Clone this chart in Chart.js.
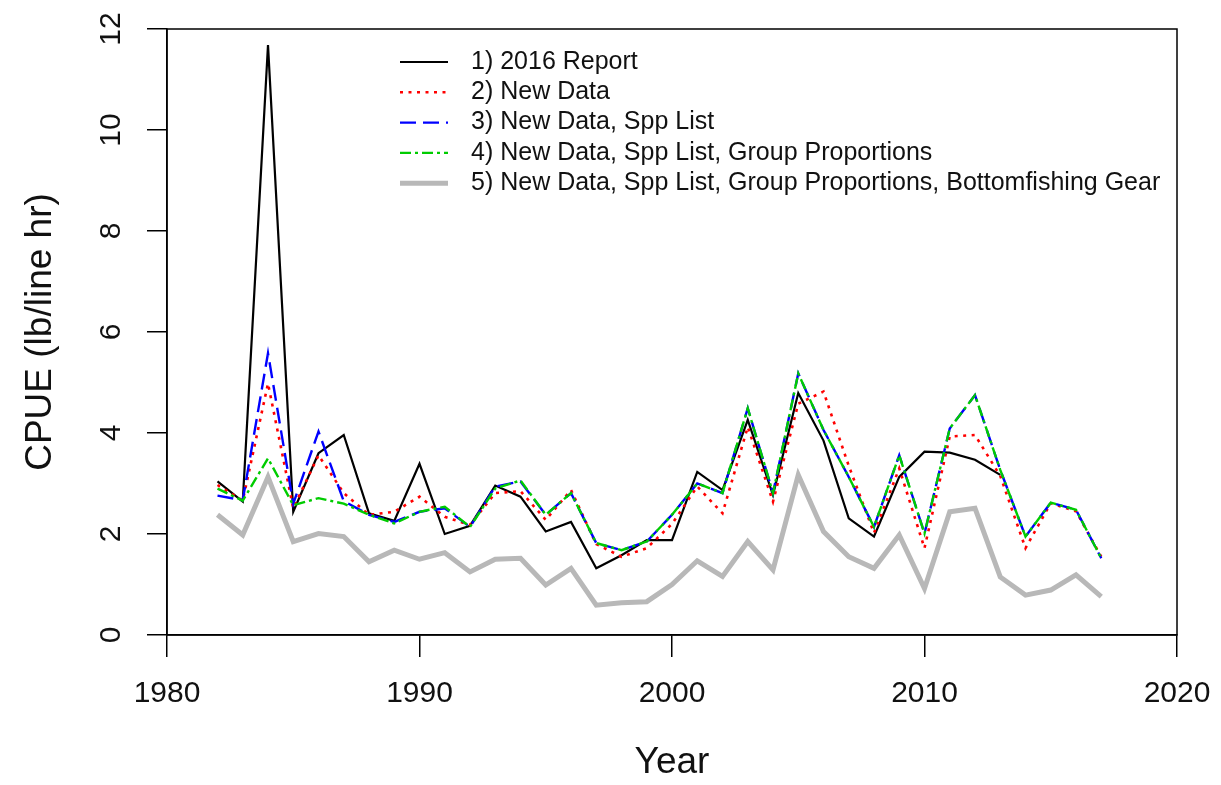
<!DOCTYPE html>
<html>
<head>
<meta charset="utf-8">
<title>CPUE by year</title>
<script src="https://cdn.jsdelivr.net/npm/chart.js@4.4.1/dist/chart.umd.min.js"></script>
<style>
  html, body { margin: 0; padding: 0; background: #fff; }
  #wrap { width: 1221px; height: 785px; }
</style>
</head>
<body>
<div id="wrap"><canvas id="cpue-chart" width="1221" height="785"></canvas></div>
<script>
const years = [1982, 1983, 1984, 1985, 1986, 1987, 1988, 1989, 1990, 1991, 1992, 1993,
    1994, 1995, 1996, 1997, 1998, 1999, 2000, 2001, 2002, 2003, 2004, 2005,
    2006, 2007, 2008, 2009, 2010, 2011, 2012, 2013, 2014, 2015, 2016, 2017];

const report2016 = [3.04, 2.64, 11.68, 2.44, 3.6, 3.96, 2.41, 2.26, 3.39, 2.0, 2.16, 2.96,
    2.74, 2.05, 2.24, 1.32, 1.58, 1.88, 1.88, 3.23, 2.87, 4.26, 2.77, 4.79,
    3.85, 2.31, 1.95, 3.13, 3.63, 3.61, 3.47, 3.17, null, null, null, null];
const newData = [2.97, 2.66, 4.98, 2.51, 3.56, 2.81, 2.38, 2.44, 2.74, 2.34, 2.18, 2.81,
    2.85, 2.28, 2.87, 1.8, 1.55, 1.72, 2.2, 2.94, 2.41, 4.12, 2.64, 4.58,
    4.82, 3.35, 2.02, 3.3, 1.72, 3.93, 3.96, 3.15, 1.72, 2.61, 2.45, 1.55];
const sppList = [2.76, 2.67, 5.58, 2.6, 4.03, 2.65, 2.38, 2.24, 2.44, 2.51, 2.14, 2.94,
    3.04, 2.38, 2.81, 1.82, 1.68, 1.85, 2.38, 3.0, 2.81, 4.49, 2.81, 5.18,
    4.06, 3.13, 2.14, 3.56, 2.01, 4.09, 4.75, 3.27, 1.95, 2.62, 2.48, 1.52];
const groupProps = [2.9, 2.66, 3.5, 2.57, 2.71, 2.6, 2.38, 2.21, 2.44, 2.54, 2.14, 2.9,
    3.06, 2.38, 2.81, 1.82, 1.68, 1.85, 2.38, 3.0, 2.81, 4.49, 2.81, 5.18,
    4.06, 3.13, 2.14, 3.56, 2.01, 4.09, 4.75, 3.27, 1.95, 2.62, 2.48, 1.52];
const bottomGear = [2.38, 1.98, 3.13, 1.85, 2.01, 1.95, 1.45, 1.68, 1.5, 1.63, 1.25, 1.5,
    1.52, 0.99, 1.32, 0.59, 0.64, 0.66, 1.0, 1.47, 1.16, 1.85, 1.29, 3.17,
    2.05, 1.55, 1.32, 1.98, 0.92, 2.44, 2.51, 1.15, 0.79, 0.89, 1.19, 0.76];

const seriesLabels = ['1) 2016 Report', '2) New Data', '3) New Data, Spp List',
    '4) New Data, Spp List, Group Proportions',
    '5) New Data, Spp List, Group Proportions, Bottomfishing Gear'];
const xTicks = [1980, 1990, 2000, 2010, 2020];
const yTicks = [0, 2, 4, 6, 8, 10, 12];

const FONT = '"Liberation Sans", Arial, sans-serif';

function pts(vals) {
    return years.map((yr, i) => ({ x: yr, y: vals[i] }));
}

// box around the plot, R style y labels and the legend inside the plot
const rPlotExtras = {
    id: 'rPlotExtras',
    afterDraw(chart) {
        const { ctx, chartArea: a } = chart;
        const y = chart.scales.y;
        ctx.save();
        ctx.strokeStyle = '#000';
        ctx.lineWidth = 1.5;
        ctx.strokeRect(a.left, a.top, a.right - a.left, a.bottom - a.top);

        ctx.fillStyle = '#111';
        ctx.font = '30px ' + FONT;
        ctx.textAlign = 'center';
        ctx.textBaseline = 'middle';
        yTicks.forEach(v => {
            ctx.save();
            ctx.translate(112, y.getPixelForValue(v));
            ctx.rotate(-Math.PI / 2);
            ctx.fillText(String(v), 0, 0);
            ctx.restore();
        });

        // legend
        ctx.font = '25px ' + FONT;
        ctx.textAlign = 'left';
        chart.data.datasets.forEach((ds, i) => {
            const ly = 62 + i * 30.3;
            ctx.save();
            ctx.strokeStyle = ds.borderColor;
            ctx.lineWidth = ds.borderWidth;
            ctx.setLineDash(ds.borderDash || []);
            ctx.beginPath();
            ctx.moveTo(400, ly);
            ctx.lineTo(448, ly);
            ctx.stroke();
            ctx.restore();
            ctx.fillText(ds.label, 471, ly);
        });
        ctx.restore();
    }
};

const ctx = document.getElementById('cpue-chart').getContext('2d');
const cpueChart = new Chart(ctx, {
    type: 'line',
    data: {
        datasets: [{
            label: seriesLabels[0],
            data: pts(report2016),
            borderColor: '#000000',
            borderWidth: 2.2,
            order: 5
        }, {
            label: seriesLabels[1],
            data: pts(newData),
            borderColor: '#ff0000',
            borderWidth: 2.6,
            borderDash: [3, 5.5],
            order: 4
        }, {
            label: seriesLabels[2],
            data: pts(sppList),
            borderColor: '#0000ff',
            borderWidth: 2.4,
            borderDash: [16, 7],
            order: 3
        }, {
            label: seriesLabels[3],
            data: pts(groupProps),
            borderColor: '#00cc00',
            borderWidth: 2.4,
            borderDash: [11, 4, 3, 4],
            order: 2
        }, {
            label: seriesLabels[4],
            data: pts(bottomGear),
            borderColor: '#b8b8b8',
            borderWidth: 5,
            order: 1
        }]
    },
    options: {
        responsive: false,
        animation: false,
        events: [],
        elements: {
            point: { radius: 0 },
            line: { tension: 0, fill: false }
        },
        layout: {
            padding: { top: 29, right: 44, left: 0, bottom: 0 }
        },
        plugins: {
            legend: { display: false },
            tooltip: { enabled: false }
        },
        scales: {
            x: {
                type: 'linear',
                min: 1980,
                max: 2020,
                afterBuildTicks: scale => {
                    scale.ticks = xTicks.map(v => ({ value: v }));
                },
                afterFit: scale => {
                    scale.height = 150;
                    scale.paddingLeft = 0;
                    scale.paddingRight = 0;
                },
                grid: {
                    drawOnChartArea: false,
                    drawTicks: true,
                    tickLength: 22,
                    color: '#000',
                    lineWidth: 1.5
                },
                border: { display: true, color: '#000', width: 1.5 },
                ticks: {
                    color: '#111',
                    font: { family: FONT, size: 30 },
                    padding: 19,
                    maxRotation: 0,
                    callback: v => String(v)
                },
                title: {
                    display: true,
                    text: 'Year',
                    color: '#111',
                    font: { family: FONT, size: 37, lineHeight: 1.2 },
                    padding: { top: 0, bottom: 0 }
                }
            },
            y: {
                type: 'linear',
                min: 0,
                max: 12,
                afterBuildTicks: scale => {
                    scale.ticks = yTicks.map(v => ({ value: v }));
                },
                afterFit: scale => { scale.width = 167; },
                grid: {
                    drawOnChartArea: false,
                    drawTicks: true,
                    tickLength: 20,
                    color: '#000',
                    lineWidth: 1.5
                },
                border: { display: true, color: '#000', width: 1.5 },
                ticks: { display: false },
                title: {
                    display: true,
                    text: 'CPUE (lb/line hr)',
                    color: '#111',
                    font: { family: FONT, size: 37, lineHeight: 1.2 },
                    padding: { top: 19, bottom: 0 }
                }
            }
        }
    },
    plugins: [rPlotExtras]
});
</script>
</body>
</html>
